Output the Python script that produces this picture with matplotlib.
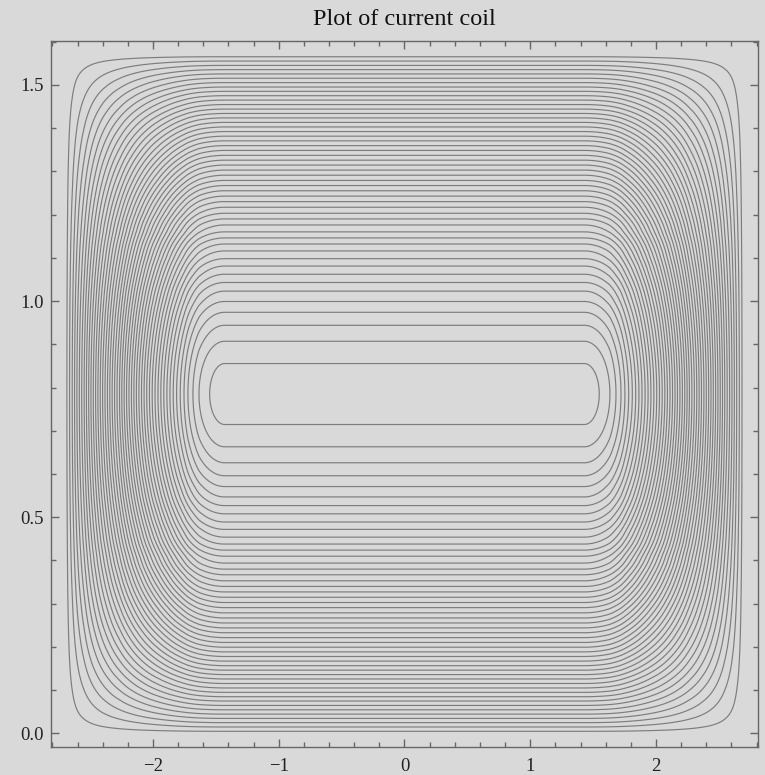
import numpy as np
import matplotlib
matplotlib.use("Agg")
from matplotlib import pyplot as plt
from matplotlib.ticker import MultipleLocator, FormatStrFormatter

plt.rcParams['font.family'] = ['Liberation Serif', 'DejaVu Serif']

# field values of the contours (normalised, 50 contours)
levels = np.linspace(0.01, 0.99, 50)

# profile up the line x = 0 : distance from the mid line y = 0.785, field value
y_dist = [0.0, 0.0705, 0.122, 0.159, 0.189, 0.214, 0.238, 0.258, 0.277, 0.296,
          0.313, 0.331, 0.347, 0.361, 0.375, 0.391, 0.405, 0.418, 0.432, 0.445,
          0.494, 0.552, 0.607, 0.659, 0.710, 0.760, 0.785]
y_val = [1.0, 0.99, 0.97, 0.95, 0.93, 0.91, 0.89, 0.87, 0.85, 0.83,
         0.81, 0.79, 0.77, 0.75, 0.73, 0.71, 0.69, 0.67, 0.65, 0.63,
         0.55, 0.45, 0.35, 0.25, 0.15, 0.05, 0.0]

# profile along the mid line : |x|, field value
x_pos = [0.0, 1.43, 1.549, 1.634, 1.682, 1.722, 1.753, 1.783, 1.812, 1.839,
         1.889, 1.960, 2.028, 2.091, 2.171, 2.266, 2.362, 2.456, 2.547, 2.642,
         2.684, 2.70]
x_val = [1.0, 1.0, 0.99, 0.97, 0.95, 0.93, 0.91, 0.89, 0.87, 0.85,
         0.81, 0.75, 0.69, 0.63, 0.55, 0.45, 0.35, 0.25, 0.15, 0.05,
         0.01, 0.0]

y_mid = 0.785
x_half = 2.70
y_top = 1.5708


def profile(pos, val, q):
    # interpolate sqrt(1 - v) so the ends stay rounded
    s = np.sqrt(1.0 - np.array(val))
    return 1.0 - np.interp(q, pos, s) ** 2


xs = np.linspace(-x_half, x_half, 1400)
ys = np.linspace(0.0, y_top, 900)
X, Y = np.meshgrid(xs, ys)
F = profile(x_pos, x_val, np.abs(X)) * profile(y_dist, y_val, np.abs(Y - y_mid))

fig = plt.figure(figsize=(7.65, 7.75), dpi=100, facecolor='#d9d9d9')
ax = fig.add_axes([0.0663, 0.0361, 0.9248, 0.9114])
ax.set_facecolor('#d9d9d9')

ax.contour(X, Y, F, levels=levels, colors='#7d7d7d', linewidths=0.85)

ax.set_xlim(-2.813, 2.813)
ax.set_ylim(-0.0314, 1.6022)

ax.xaxis.set_major_locator(MultipleLocator(1))
ax.xaxis.set_minor_locator(MultipleLocator(0.2))
ax.yaxis.set_major_locator(MultipleLocator(0.5))
ax.yaxis.set_minor_locator(MultipleLocator(0.1))
ax.yaxis.set_major_formatter(FormatStrFormatter('%.1f'))

ax.tick_params(which='both', direction='in', top=True, right=True,
               colors='#666666', labelcolor='#222222', labelsize=13.5, width=1)
ax.tick_params(which='major', length=6)
ax.tick_params(which='minor', length=3.5)
ax.tick_params(axis='x', which='major', pad=8)
ax.tick_params(axis='y', which='major', pad=5)
for sp in ax.spines.values():
    sp.set_color('#666666')
    sp.set_linewidth(1)

ax.set_title("Plot of current coil", fontsize=17.5, color='#111111', pad=11)

fig.savefig("out.png", dpi=100, facecolor=fig.get_facecolor())
